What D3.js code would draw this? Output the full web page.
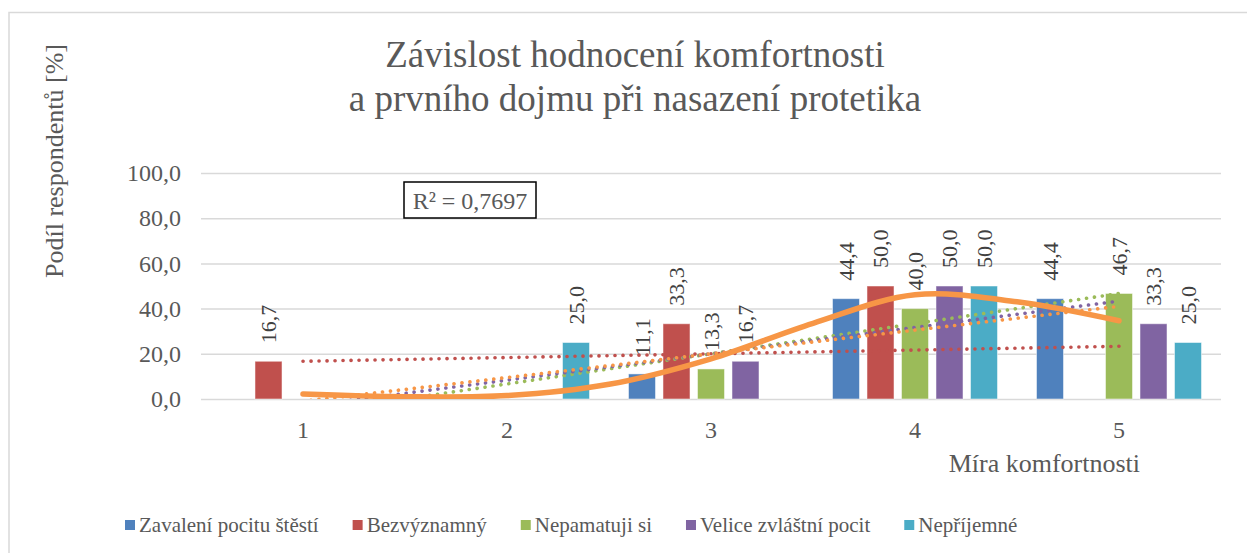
<!DOCTYPE html>
<html><head><meta charset="utf-8">
<script src="https://cdn.jsdelivr.net/npm/d3@7"></script>
<style>body{margin:0;background:#fff}</style>
</head><body>
<svg id="c" width="1247" height="553"></svg>
<script>
// ---- data ----
const categories = [1, 2, 3, 4, 5];
const seriesNames = ["Zavalení pocitu štěstí", "Bezvýznamný", "Nepamatuji si", "Velice zvláštní pocit", "Nepříjemné"];
const zavaleni    = [0, 0, 11.1, 44.4, 44.4];
const bezvyznamny = [16.7, 0, 33.3, 50.0, 0];
const nepamatuji  = [0, 0, 13.3, 40.0, 46.7];
const velice      = [0, 0, 16.7, 50.0, 33.3];
const neprijemne  = [0, 25.0, 0, 50.0, 25.0];
const seriesColors = ["#4F81BD", "#C0504D", "#9BBB59", "#8064A2", "#4BACC6"];
const yTicks = [0, 20, 40, 60, 80, 100];
// trendlines
const linearTrendSeries = [1, 2, 3];             // red, green, purple: linear fits of their series
const orangeLinearX = [1, 5];
const orangeLinearY = [-1.0, 41.0];
const polyX = [1, 1.5, 2, 2.5, 3, 3.5, 4, 4.5, 5];
const polyY = [2.2, 1.0, 1.5, 6.5, 17.8, 33.5, 46.1, 43.0, 34.6];
const rSquaredText = "R² = 0,7697";
const titleLines = ["Závislost hodnocení komfortnosti", "a prvního dojmu při nasazení protetika"];
const yTitle = "Podíl respondentů [%]";
const xTitle = "Míra komfortnosti";

const allSeries = [zavaleni, bezvyznamny, nepamatuji, velice, neprijemne];
const ORANGE = "#F79646";
const SERIF = "'Liberation Serif','Times New Roman',serif";

const svg = d3.select("#c");
svg.append("rect").attr("width", 1247).attr("height", 553).attr("fill", "#fff");
svg.append("rect").attr("x", 9).attr("y", 12.5).attr("width", 1252).attr("height", 570)
  .attr("fill", "none").attr("stroke", "#d9d9d9").attr("stroke-width", 1.5);

const plot = {left: 201, right: 1221, top: 173, bottom: 399};
const x0 = d3.scaleBand().domain(categories).range([plot.left, plot.right]).padding(0);
const x1 = d3.scaleBand().domain(d3.range(allSeries.length)).range([0, x0.bandwidth()])
  .paddingInner(0.217).paddingOuter(0.565);
const xl = d3.scaleLinear().domain([0.5, 5.5]).range([plot.left, plot.right]);
const y = d3.scaleLinear().domain([0, 100]).range([plot.bottom, plot.top]);

// title
svg.append("g").selectAll("text").data(titleLines).join("text")
  .attr("x", 635).attr("y", (d, i) => 67 + i * 44)
  .attr("text-anchor", "middle").attr("font-family", SERIF).attr("font-size", 37)
  .attr("fill", "#595959").text(d => d);

// y axis + grid
const yAxis = svg.append("g").attr("transform", `translate(${plot.left},0)`)
  .call(d3.axisLeft(y).tickValues(yTicks).tickSize(-(plot.right - plot.left)).tickPadding(20)
    .tickFormat(d => d3.format(".1f")(d).replace(".", ",")));
yAxis.select(".domain").remove();
yAxis.selectAll("line").attr("stroke", "#d9d9d9").attr("stroke-width", 1.5);
yAxis.selectAll("text").attr("font-family", SERIF).attr("font-size", 24).attr("fill", "#595959");

// x axis
const xAxis = svg.append("g").attr("transform", `translate(0,${plot.bottom})`)
  .call(d3.axisBottom(x0).tickSize(0).tickPadding(22));
xAxis.select(".domain").remove();
xAxis.selectAll("text").attr("font-family", SERIF).attr("font-size", 24).attr("fill", "#595959");

// axis titles
svg.append("text").attr("transform", "translate(63,161) rotate(-90)")
  .attr("text-anchor", "middle").attr("font-family", SERIF).attr("font-size", 26)
  .attr("fill", "#595959").text(yTitle);
svg.append("text").attr("x", 1140).attr("y", 472).attr("text-anchor", "end")
  .attr("font-family", SERIF).attr("font-size", 26).attr("fill", "#595959").text(xTitle);

// bars
const barData = [];
allSeries.forEach((s, si) => s.forEach((v, ci) => barData.push({si, c: categories[ci], v})));
svg.append("g").selectAll("rect").data(barData.filter(d => d.v > 0)).join("rect")
  .attr("x", d => x0(d.c) + x1(d.si)).attr("width", x1.bandwidth())
  .attr("y", d => y(d.v)).attr("height", d => y(0) - y(d.v))
  .attr("fill", d => seriesColors[d.si]).attr("stroke", "#fff").attr("stroke-opacity", 0.5).attr("stroke-width", 1);

// data labels
svg.append("g").selectAll("text").data(barData.filter(d => d.v > 0)).join("text")
  .attr("transform", d => `translate(${x0(d.c) + x1(d.si) + x1.bandwidth() / 2},${y(d.v) - 18}) rotate(-90)`)
  .attr("dy", "0.35em").attr("text-anchor", "start")
  .attr("font-family", SERIF).attr("font-size", 22).attr("fill", "#404040")
  .text(d => d3.format(".1f")(d.v).replace(".", ","));

// clip for trendlines
svg.append("clipPath").attr("id", "pc").append("rect")
  .attr("x", plot.left).attr("y", plot.top - 40).attr("width", plot.right - plot.left).attr("height", plot.bottom - plot.top + 40);
const tg = svg.append("g").attr("clip-path", "url(#pc)");
const line = d3.line().x(d => xl(d[0])).y(d => y(d[1]));

function linFit(vals) {
  const xs = categories, n = xs.length;
  const mx = d3.mean(xs), my = d3.mean(vals);
  let sxy = 0, sxx = 0;
  xs.forEach((xv, i) => { sxy += (xv - mx) * (vals[i] - my); sxx += (xv - mx) ** 2; });
  const b = sxy / sxx, a = my - b * mx;
  return [[1, a + b * 1], [5, a + b * 5]];
}
function dotted(pts, color) {
  tg.append("path").attr("d", line(pts)).attr("fill", "none").attr("stroke", color)
    .attr("stroke-width", 3.6).attr("stroke-linecap", "round").attr("stroke-dasharray", "0.1 7.9");
}
linearTrendSeries.forEach(si => dotted(linFit(allSeries[si]), seriesColors[si]));
dotted(orangeLinearX.map((xv, i) => [xv, orangeLinearY[i]]), ORANGE);

tg.append("path").attr("d", line.curve(d3.curveCatmullRom)(polyX.map((xv, i) => [xv, polyY[i]])))
  .attr("fill", "none").attr("stroke", ORANGE).attr("stroke-width", 5.5).attr("stroke-linecap", "round");

// R² box
svg.append("rect").attr("x", 404).attr("y", 182).attr("width", 132).attr("height", 36)
  .attr("fill", "#fff").attr("stroke", "#000").attr("stroke-width", 1.5);
svg.append("text").attr("x", 470).attr("y", 209).attr("text-anchor", "middle")
  .attr("font-family", SERIF).attr("font-size", 24).attr("fill", "#595959").text(rSquaredText);

// legend
const lg = svg.append("g");
let lx = 125;
seriesNames.forEach((name, i) => {
  lg.append("rect").attr("x", lx).attr("y", 520).attr("width", 10).attr("height", 10).attr("fill", seriesColors[i]);
  const t = lg.append("text").attr("x", lx + 14).attr("y", 532)
    .attr("font-family", SERIF).attr("font-size", 21).attr("fill", "#595959").text(name);
  lx += 14 + t.node().getComputedTextLength() + 34;
});
</script>
</body></html>
